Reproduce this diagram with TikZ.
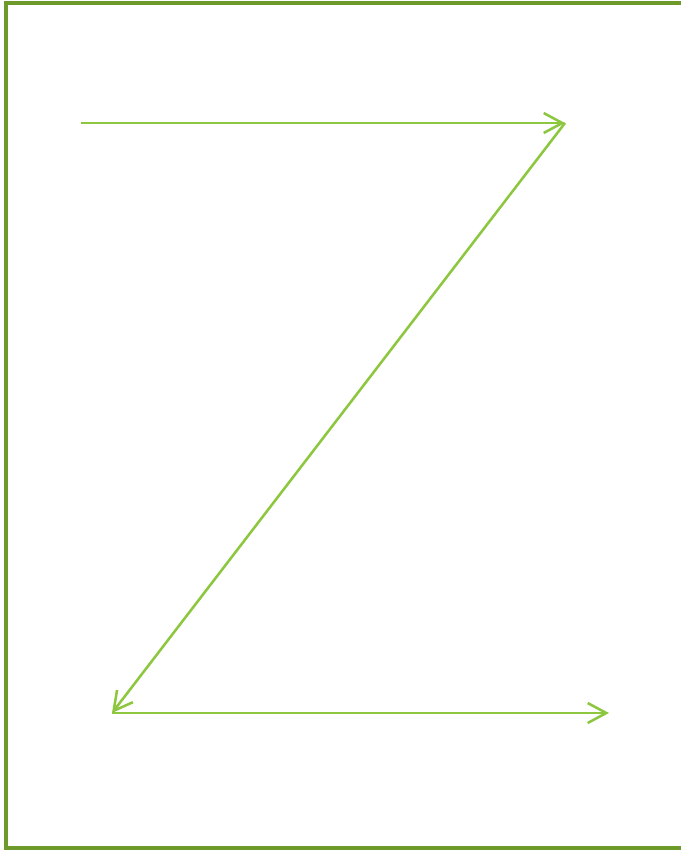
\documentclass[tikz,border=0pt]{standalone}
\usepackage{tikz}
\usetikzlibrary{arrows.meta, positioning, calc}
\definecolor{marco}{HTML}{6E9A2B}
\definecolor{trazo}{HTML}{8DC63F}
\tikzset{
  framebox/.style={draw=marco, line width=2.6pt},
  zarrow/.style={draw=trazo, line width=1.9pt, -{Straight Barb[length=14pt, width=15pt, line width=1.9pt]}}
}

\begin{document}
\begin{tikzpicture}[x=0.75pt, y=-0.75pt]
    % Lienzo
    \useasboundingbox (0,0) rectangle (681,850);
    \clip (0,0) rectangle (681,850);

    % 1. Marco
    \draw[framebox] (6,3) rectangle (700,848);

    % 2. Puntos de la Z
    \coordinate (inicio) at (81,123);
    \coordinate (arribaDer) at (565,123);
    \coordinate (abajoIzq) at (112,713);
    \coordinate (fin) at (609,713);

    % 3. Trazos
    \draw[zarrow] (inicio) -- (arribaDer);
    \draw[zarrow] (arribaDer) -- (abajoIzq);
    \draw[zarrow] (abajoIzq) -- (fin);
\end{tikzpicture}
\end{document}
